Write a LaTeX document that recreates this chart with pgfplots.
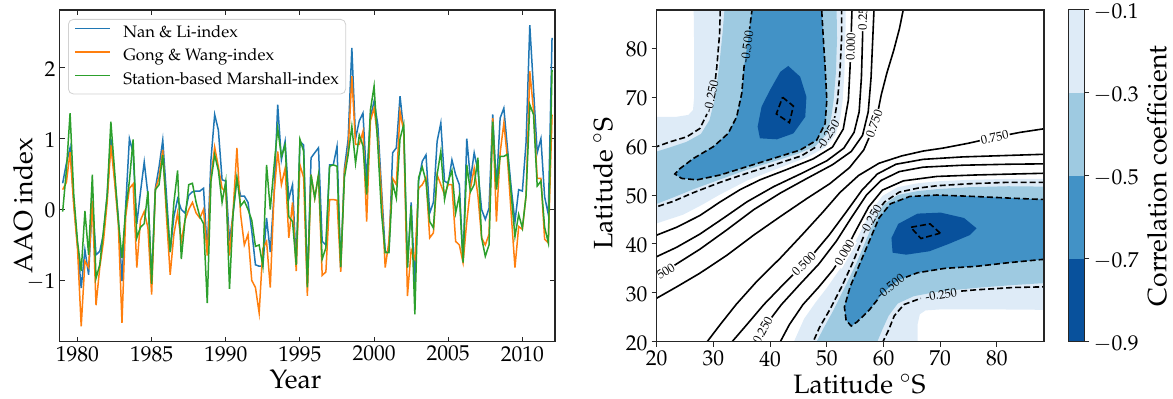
\documentclass[border=0pt]{standalone}
\usepackage[T1]{fontenc}
\usepackage{mathpazo}
\usepackage{pgfplots}
\pgfplotsset{compat=1.18}
\usepackage{pgfplotstable}

\definecolor{cB}{HTML}{1F77B4}
\definecolor{cO}{HTML}{FF7F0E}
\definecolor{cG}{HTML}{2CA02C}
\definecolor{f1}{RGB}{222,235,247}
\definecolor{f2}{RGB}{158,202,225}
\definecolor{f3}{RGB}{66,146,198}
\definecolor{f4}{RGB}{8,81,156}

\newcommand\tickfont{\fontsize{10.75}{12}\selectfont}
\newcommand\labfont{\fontsize{13.3}{15}\selectfont}
\newcommand\legfont{\fontsize{8.3}{10}\selectfont}
\newcommand\clfont{\fontsize{6.2}{7}\selectfont}

\pgfplotstableread{
t B O G
1979.00 0.37 0.28 -0.03
1979.25 0.65 0.38 0.55
1979.50 0.87 0.81 1.36
1979.75 0.10 0.05 0.20
1980.00 -0.50 -0.55 -0.45
1980.25 -1.11 -1.65 -0.87
1980.50 -0.57 -0.73 -0.02
1980.75 -0.92 -0.82 -0.64
1981.00 0.12 0.12 0.49
1981.25 -0.64 -1.35 -0.97
1981.50 -0.59 -0.82 -0.78
1981.75 -0.35 -0.45 -0.30
1982.00 0.20 0.10 0.20
1982.25 1.00 0.91 1.24
1982.50 0.45 0.40 0.55
1982.75 -0.10 -0.20 -0.15
1983.00 -1.01 -1.60 -0.68
1983.25 0.05 -0.10 0.00
1983.50 1.00 0.30 0.40
1983.75 0.80 0.36 0.99
1984.00 -0.20 -0.82 -0.40
1984.25 0.25 -0.15 -0.25
1984.50 0.67 -0.03 -0.20
1984.75 0.21 -0.26 0.26
1985.00 -1.00 -1.20 -1.05
1985.25 0.30 0.28 0.28
1985.50 0.60 0.45 0.35
1985.75 0.98 0.84 0.77
1986.00 0.20 -0.10 0.05
1986.25 -0.60 -0.92 -0.60
1986.50 -0.10 -0.35 0.10
1986.75 0.15 -0.05 0.55
1987.00 0.00 -0.45 -0.70
1987.25 -0.05 -0.15 -0.15
1987.50 0.20 0.00 0.35
1987.75 0.25 0.10 0.37
1988.00 0.26 -0.05 0.10
1988.25 0.26 -0.12 -0.10
1988.50 0.30 0.00 -0.20
1988.75 -0.60 -0.65 -1.32
1989.00 0.70 0.45 0.40
1989.25 1.34 0.88 0.77
1989.50 1.12 0.60 0.55
1989.75 0.42 0.30 0.10
1990.00 0.40 0.25 0.40
1990.25 -0.45 -0.65 -1.12
1990.50 -0.05 0.00 -0.03
1990.75 0.44 0.87 0.45
1991.00 0.19 -0.07 0.05
1991.25 0.19 -0.50 0.12
1991.50 0.10 -0.35 0.00
1991.75 -0.30 -1.00 -0.15
1992.00 -0.78 -1.10 -0.52
1992.25 -0.80 -1.46 -0.50
1992.50 -0.80 -0.55 -0.80
1992.75 -0.12 -0.45 0.63
1993.00 -0.60 -1.10 0.00
1993.25 0.20 0.20 0.60
1993.50 1.48 0.82 1.15
1993.75 0.70 0.35 0.75
1994.00 0.96 0.58 0.91
1994.25 0.15 -0.40 -0.10
1994.50 0.35 0.10 -0.17
1994.75 -0.78 -0.87 -0.78
1995.00 0.96 0.63 0.99
1995.25 0.91 0.45 0.82
1995.50 -1.08 -1.22 -1.10
1995.75 0.73 0.49 0.49
1996.00 0.80 0.16 0.16
1996.25 0.87 0.49 0.49
1996.50 -0.45 -0.93 -0.70
1996.75 -0.50 -0.88 -0.54
1997.00 0.63 0.14 0.61
1997.25 0.63 0.14 0.63
1997.50 0.89 0.13 0.61
1997.75 -0.83 -0.88 -0.81
1998.00 0.58 0.54 0.45
1998.25 0.99 0.82 0.77
1998.50 2.28 1.88 1.17
1998.75 1.00 0.92 0.65
1999.00 1.25 0.92 1.05
1999.25 1.36 1.10 0.90
1999.50 0.40 -0.17 0.21
1999.75 1.30 1.25 1.40
2000.00 1.53 1.43 1.74
2000.25 1.20 1.00 0.90
2000.50 0.30 0.20 -0.05
2000.75 -0.59 -0.82 -0.61
2001.00 -0.60 -0.45 -0.61
2001.25 0.80 0.44 0.37
2001.50 0.87 0.35 0.16
2001.75 1.60 1.38 1.00
2002.00 1.10 1.10 1.20
2002.25 -0.82 -1.22 -0.82
2002.50 0.10 -0.57 0.05
2002.75 -1.06 -0.70 -1.48
2003.00 0.40 0.30 0.45
2003.25 0.68 0.35 0.60
2003.50 0.77 0.45 0.40
2003.75 -0.05 -0.40 -0.17
2004.00 0.10 -0.33 -0.26
2004.25 0.96 0.49 0.49
2004.50 1.22 0.35 0.82
2004.75 0.40 0.21 0.14
2005.00 0.37 0.35 0.40
2005.25 0.70 0.35 0.55
2005.50 0.49 -0.45 -0.05
2005.75 0.35 -0.50 0.20
2006.00 -0.75 -0.75 -0.75
2006.25 1.00 -0.17 0.63
2006.50 0.42 0.30 0.25
2006.75 0.80 0.58 0.35
2007.00 0.55 0.20 0.73
2007.25 0.00 -0.40 -0.40
2007.50 -0.14 -0.50 -0.66
2007.75 0.02 -0.35 -0.50
2008.00 1.34 1.29 1.24
2008.25 0.30 -0.17 0.28
2008.50 1.29 0.80 0.75
2008.75 1.43 1.22 0.75
2009.00 0.85 0.70 0.78
2009.25 0.30 -0.07 0.20
2009.50 -0.17 -0.82 -0.38
2009.75 0.28 -0.24 -0.07
2010.00 0.26 -0.28 -0.26
2010.25 0.95 0.20 0.20
2010.50 2.60 1.95 1.48
2010.75 1.70 1.40 1.34
2011.00 0.80 0.44 0.33
2011.25 1.00 0.44 0.40
2011.50 0.18 -0.42 -0.25
2011.75 -0.07 -0.47 -0.47
2012.00 2.42 1.34 1.97
}\aao

% ---------- contour field (upper-left half; lower-right half is its mirror) ----------
% fill r < -0.1
\pgfplotstableread{
x y
18 43.6
20 44.2
24.7 46.0
28 48.0
31 50.0
36 53.0
41.5 55.5
46.5 57.7
49.8 59.8
51.6 62.5
52.4 66
52.8 69.4
53.1 75
53.3 82
53.3 90
26.5 90
26.6 80
26.6 70
26.4 67.4
25.6 66.4
23.5 66.0
20 66.0
18 66.0
}\Fa
% fill r < -0.3
\pgfplotstableread{
x y
18 58.3
20 58.9
22.5 59.8
25.3 60.9
27.8 62.5
29.3 65.3
30.2 69.4
31.0 76.2
31.6 83
32.1 90
51.7 90
51.8 82
51.6 75
51.2 69.4
50.8 66
50.0 62.5
48.0 60.0
45.0 58.5
41.0 57.0
36.0 55.2
31.2 53.2
26.5 51.2
22.9 49.5
20 48.2
18 47.4
}\Fb
% fill r < -0.5
\pgfplotstableread{
x y
36.9 90
36.8 87.8
36.2 82.4
35.4 76.2
35.0 70.8
34.1 66.0
32.6 62.6
30.0 59.9
26.5 57.5
24.1 55.4
23.2 54.3
24.4 53.4
27.1 53.1
31.2 54.1
35.9 55.8
40.6 57.5
45.3 59.2
48.2 61.2
49.7 64.6
50.0 69.4
49.7 76.2
49.4 81.7
49.1 87.8
49.1 90
}\Fc
% fill r < -0.7
\pgfplotstableread{
x y
43.2 76.4
45.3 74.2
46.4 70.1
46.2 66.0
44.1 62.6
41.2 61.4
38.2 61.6
37.8 64.0
38.5 68.1
40.0 71.5
41.8 75.2
}\Fd
% line -0.75
\pgfplotstableread{
x y
42.2 70.0
44.1 68.2
43.4 64.8
41.1 66.6
42.2 70.0
}\Lseven
% line -0.5 (upper copy)
\pgfplotstableread{
x y
36.9 90
36.8 87.8
36.38 84.0
nan nan
35.45 76.6
35.4 76.2
35.0 70.8
34.1 66.0
32.6 62.6
30.0 59.9
26.5 57.5
24.1 55.4
23.2 54.3
24.4 53.4
27.1 53.1
31.2 54.1
35.9 55.8
40.6 57.5
45.3 59.2
48.2 61.2
49.7 64.6
50.0 69.4
49.7 76.2
49.4 81.7
49.1 87.8
49.1 90
}\Lfiveu
% line -0.5 (lower copy: columns swapped)
\pgfplotstableread{
y x
36.9 90
36.8 87.8
36.2 82.4
35.4 76.2
35.0 70.8
34.1 66.0
33.2 63.96
nan nan
28.57 58.92
26.5 57.5
24.1 55.4
23.2 54.3
24.4 53.4
27.1 53.1
31.2 54.1
35.9 55.8
40.6 57.5
45.3 59.2
48.2 61.2
49.7 64.6
50.0 69.4
49.7 76.2
49.4 81.7
49.1 87.8
49.1 90
}\Lfivel
% line -0.25 corner side
\pgfplotstableread{
x y
18 59.0
20 59.9
22.4 60.9
25.3 61.9
27.6 63.6
28.8 66.4
28.85 66.6
nan nan
30.35 73.7
30.6 76.2
31.1 83.1
31.2 87.8
31.25 90
}\Lqa
% line -0.25 diagonal side (upper copy)
\pgfplotstableread{
x y
52.6 90
52.6 82
52.3 75
51.9 69.4
51.4 66
51.35 65.8
nan nan
47.95 59.74
45.5 58.0
41 56.3
36 54.5
31.2 52.6
26.5 50.5
22.9 48.7
20 47.6
18 46.9
}\Lqbu
% line -0.25 diagonal side (lower copy: columns swapped)
\pgfplotstableread{
y x
52.6 90
52.6 82
52.3 75
51.9 69.4
51.4 66
50.6 62.8
48.6 60.2
47.92 59.72
nan nan
41.43 56.46
41 56.3
36 54.5
31.2 52.6
26.5 50.5
22.9 48.7
20 47.6
18 46.9
}\Lqbl
% line 0.0
\pgfplotstableread{
x y
18 41.0
20 41.8
23.5 43.4
27.6 45.8
31.2 48.6
34.7 51.1
38.2 53.1
42.9 55.2
47.6 57.4
51.0 59.8
52.9 63.5
53.8 69.4
54.1 76.2
54.3 83
54.5 90
}\Lz
% line 0.25
\pgfplotstableread{
x y
18 36.6
20 37.4
23.5 39.3
27.6 42.0
31.8 45.3
35.9 48.6
40.6 51.7
45.5 54.4
50 57.0
53 59.6
54.8 62.8
55.7 67
56.1 74
56.3 82
56.4 90
}\Lq
% line 0.5
\pgfplotstableread{
x y
18 32.3
20 33.3
23.5 35.9
27.6 38.9
32.4 42.9
37.1 47.0
41.8 50.4
46.5 53.4
51 56.2
54.3 58.9
56.3 62.2
57.3 67
57.8 74
58.1 82
58.4 90
}\Lh
% line 0.75
\pgfplotstableread{
x y
18 27.6
20 28.9
23.5 31.2
27.6 34.0
32.4 37.7
37.1 41.8
41.8 45.6
46.5 49.3
50.5 52.3
54.0 55.6
56.5 59.2
58.0 63.2
59.0 67
59.6 70.5
60.6 75
61.8 79.6
62.8 84
63.5 88
63.7 90
}\Lt

\begin{document}
\begin{tikzpicture}
\useasboundingbox (0,0) rectangle (586.5pt,199.5pt);

% ================= left panel =================
\begin{axis}[
  at={(29.85pt,28.65pt)}, anchor=south west,
  scale only axis, width=247.65pt, height=165.85pt,
  xmin=1978.8, xmax=2012.2, ymin=-1.865, ymax=2.815,
  xtick={1980,1985,1990,1995,2000,2005,2010},
  ytick={-1,0,1,2},
  xticklabel style={/pgf/number format/1000 sep={}},
  yticklabel style={yshift=-0.6pt},
  tick align=inside, major tick length=2.5pt,
  tick label style={font=\tickfont, inner sep=2pt},
  axis line style={black!85, line width=0.6pt},
  every tick/.style={black!85, line width=0.5pt},
  xlabel={Year}, ylabel={AAO index},
  label style={font=\labfont},
  xlabel style={at={(axis description cs:0.476,-0.1405)}, anchor=base},
  ylabel style={at={(axis description cs:-0.0741,0.41)}, anchor=center},
  legend style={at={(axis description cs:0,1)}, anchor=north west,
    xshift=4.15pt, yshift=-4.5pt, draw=black!18, rounded corners=2.5pt,
    fill=white, font=\legfont, inner xsep=3pt, inner ysep=2.4pt,
    row sep=2.9pt,
    nodes={inner sep=0.4pt, text height=6.2pt, text depth=1.9pt}},
  legend cell align=left,
  legend image code/.code={\draw[#1, line width=0.75pt] (0pt,2.3pt) -- (17.5pt,2.3pt);
     \path (0pt,0pt) (23.3pt,0pt);},
]
\addplot[cB, line width=0.75pt] table[x=t,y=B] {\aao};
\addlegendentry{Nan \& Li-index}
\addplot[cO, line width=0.75pt] table[x=t,y=O] {\aao};
\addlegendentry{Gong \& Wang-index}
\addplot[cG, line width=0.75pt] table[x=t,y=G] {\aao};
\addlegendentry{Station-based Marshall-index}
\end{axis}

% ================= right panel =================
\begin{axis}[
  at={(328.35pt,28.65pt)}, anchor=south west,
  scale only axis, width=193.65pt, height=165.85pt,
  xmin=20, xmax=88.3, ymin=20, ymax=87.85,
  xtick={20,30,...,80}, ytick={20,30,...,80},
  tick align=outside, tick pos=left, major tick length=2.5pt,
  tick label style={font=\tickfont, inner sep=2pt},
  yticklabel style={yshift=-0.6pt},
  axis line style={black!85, line width=0.6pt},
  every tick/.style={black!85, line width=0.5pt},
  xlabel={Latitude $^\circ$S}, ylabel={Latitude $^\circ$S},
  label style={font=\labfont},
  xlabel style={at={(axis description cs:0.5236,-0.1556)}, anchor=base},
  ylabel style={at={(axis description cs:-0.1387,0.477)}, anchor=center},
  axis on top,
  unbounded coords=jump,
  clw/.style={black, line width=0.8pt},
  cld/.style={black, line width=0.8pt, dash pattern=on 3pt off 1.5pt},
]
% filled levels
\addplot[draw=none, fill=f1] table[x=x,y=y] {\Fa};
\addplot[draw=none, fill=f1] table[x=y,y=x] {\Fa};
\addplot[draw=none, fill=f2] table[x=x,y=y] {\Fb};
\addplot[draw=none, fill=f2] table[x=y,y=x] {\Fb};
\addplot[draw=none, fill=f3] table[x=x,y=y] {\Fc};
\addplot[draw=none, fill=f3] table[x=y,y=x] {\Fc};
\addplot[draw=none, fill=f4] table[x=x,y=y] {\Fd};
\addplot[draw=none, fill=f4] table[x=y,y=x] {\Fd};
% negative contour lines
\addplot[cld] table[x=x,y=y] {\Lseven};
\addplot[cld] table[x=y,y=x] {\Lseven};
\addplot[cld] table[x=x,y=y] {\Lfiveu};
\addplot[cld] table[x=x,y=y] {\Lfivel};
\addplot[cld] table[x=x,y=y] {\Lqa};
\addplot[cld] table[x=y,y=x] {\Lqa};
\addplot[cld] table[x=x,y=y] {\Lqbu};
\addplot[cld] table[x=x,y=y] {\Lqbl};
% non-negative contour lines
\addplot[clw] table[x=x,y=y] {\Lz};
\addplot[clw] table[x=y,y=x] {\Lz};
\addplot[clw] table[x=x,y=y] {\Lq};
\addplot[clw] table[x=y,y=x] {\Lq};
\addplot[clw] table[x=x,y=y] {\Lh};
\addplot[clw] table[x=y,y=x] {\Lh};
\addplot[clw] table[x=x,y=y] {\Lt};
\addplot[clw] table[x=y,y=x] {\Lt};
% contour labels
\node[font=\clfont, rotate=78, inner sep=0pt] at (axis cs:29.6,70.15) {-0.250};
\node[font=\clfont, rotate=10, inner sep=0pt] at (axis cs:70.15,29.6) {-0.250};
\node[font=\clfont, rotate=82, inner sep=0pt] at (axis cs:35.93,80.3) {-0.500};
\node[font=\clfont, rotate=38, inner sep=0pt] at (axis cs:61.2,31.25) {-0.500};
\node[font=\clfont, rotate=57, inner sep=0pt] at (axis cs:50.2,62.3) {-0.250};
\node[font=\clfont, rotate=60, inner sep=0pt] at (axis cs:57.77,44.9) {-0.250};
\node[font=\clfont, rotate=88, fill=white, inner sep=0.6pt] at (axis cs:54.22,80.3) {0.000};
\node[font=\clfont, rotate=60, fill=white, inner sep=0.6pt] at (axis cs:53.1,38.2) {0.000};
\node[font=\clfont, rotate=88, fill=white, inner sep=0.6pt] at (axis cs:56.36,86.0) {0.25};
\node[font=\clfont, rotate=61, fill=white, inner sep=0.6pt] at (axis cs:38.7,22.4) {0.250};
\node[font=\clfont, rotate=32, fill=white, inner sep=0.6pt] at (axis cs:21.6,34.4) {500};
\node[font=\clfont, rotate=45, fill=white, inner sep=0.6pt] at (axis cs:45.95,35.9) {0.500};
\node[font=\clfont, rotate=70, fill=white, inner sep=0.6pt] at (axis cs:58.37,64.6) {0.750};
\node[font=\clfont, rotate=12, fill=white, inner sep=0.6pt] at (axis cs:79.6,61.8) {0.750};
\end{axis}

% ================= colour bar =================
\begin{axis}[
  at={(534.15pt,28.65pt)}, anchor=south west,
  scale only axis, width=8pt, height=165.85pt,
  xmin=0, xmax=1, ymin=-0.9, ymax=-0.1,
  xtick=\empty, ytick={-0.9,-0.7,-0.5,-0.3,-0.1},
  yticklabels={$-0.9$,$-0.7$,$-0.5$,$-0.3$,$-0.1$},
  ytick pos=right, yticklabel pos=right,
  tick align=outside, major tick length=2.5pt,
  tick label style={font=\tickfont, inner sep=0.5pt},
  yticklabel style={xshift=1.5pt, yshift=-1pt},
  axis line style={black!85, line width=0.5pt},
  every tick/.style={black!85, line width=0.5pt},
  ylabel={Correlation coefficient}, label style={font=\labfont},
  ylabel style={at={(axis description cs:5.54,0.5)}, anchor=center},
  axis on top,
]
\addplot[draw=none, fill=f4] coordinates {(0,-0.9) (1,-0.9) (1,-0.7) (0,-0.7)};
\addplot[draw=none, fill=f3] coordinates {(0,-0.7) (1,-0.7) (1,-0.5) (0,-0.5)};
\addplot[draw=none, fill=f2] coordinates {(0,-0.5) (1,-0.5) (1,-0.3) (0,-0.3)};
\addplot[draw=none, fill=f1] coordinates {(0,-0.3) (1,-0.3) (1,-0.1) (0,-0.1)};
\end{axis}
\end{tikzpicture}
\end{document}
